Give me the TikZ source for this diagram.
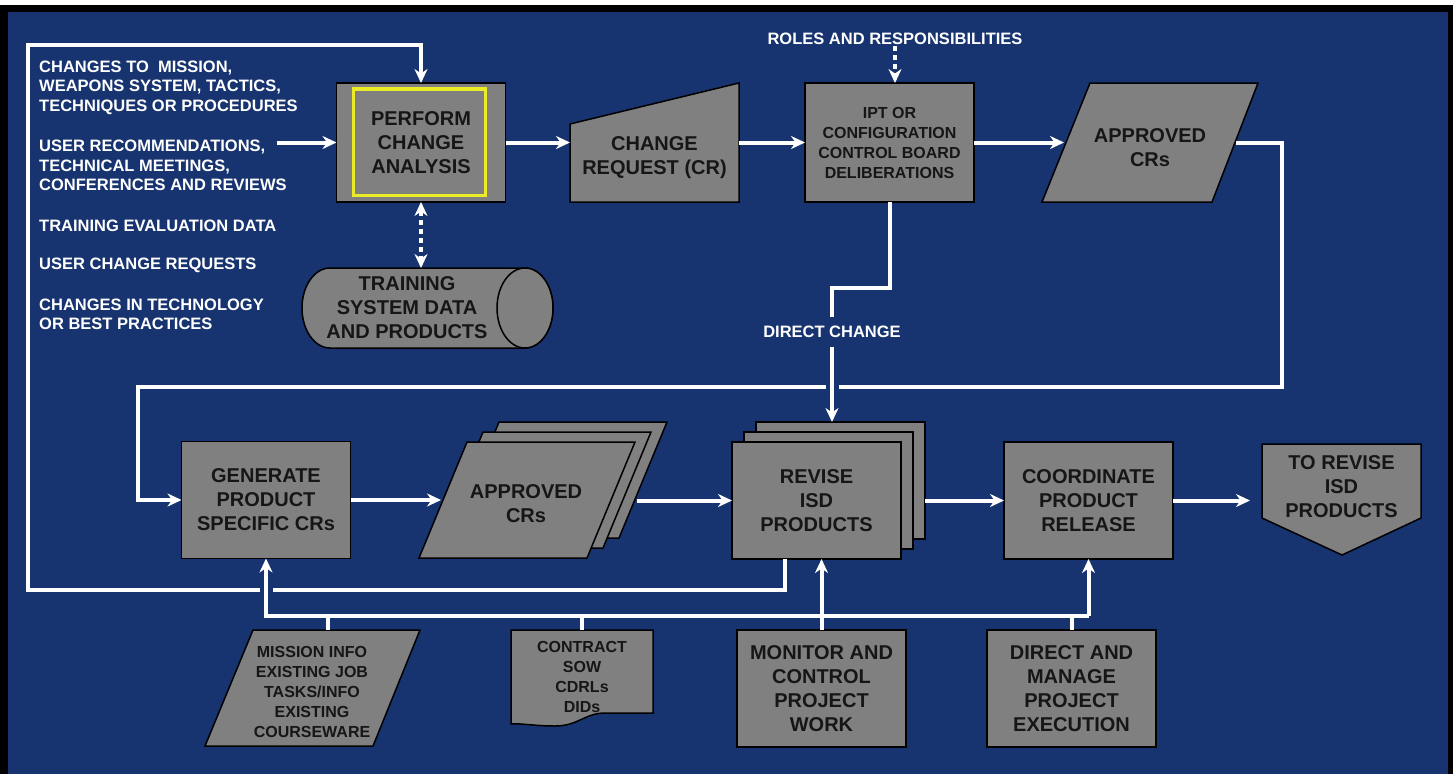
\documentclass[tikz,border=0pt]{standalone}
\usepackage{fontspec}
\setmainfont{Liberation Sans}
\usetikzlibrary{arrows.meta,calc}
\definecolor{bgblue}{RGB}{24,52,112}
\definecolor{boxgray}{RGB}{128,128,128}
\definecolor{boxtext}{RGB}{22,22,22}
\definecolor{hiyellow}{RGB}{235,235,40}
\begin{document}
\begin{tikzpicture}[x=1pt,y=-1pt,>={Stealth[length=14pt,width=13pt]},
	procbox/.style={draw=black,line width=1.5pt,fill=boxgray,minimum width=169,minimum height=117,align=center,text=boxtext,font=\fontsize{20}{24}\selectfont\bfseries,inner sep=2pt,outer sep=0pt},
	smallbox/.style={procbox,font=\fontsize{16}{20}\selectfont\bfseries},
	shapetext/.style={align=center,text=boxtext,font=\fontsize{20}{24}\selectfont\bfseries,inner sep=0pt,outer sep=0pt},
	smalltext/.style={shapetext,font=\fontsize{16}{20}\selectfont\bfseries},
	outline/.style={draw=black,line width=1.5pt,fill=boxgray},
	note/.style={anchor=west,align=left,text=white,font=\fontsize{16.5}{19.5}\selectfont\bfseries,inner sep=0pt},
	tag/.style={text=white,font=\fontsize{16.5}{19.5}\selectfont\bfseries,inner sep=1pt},
	wire/.style={draw=white,line width=4pt},
	flow/.style={wire,->},
	dotflow/.style={wire,dash pattern=on 5pt off 4pt},
	bridge/.style={draw=bgblue,line width=9pt}]
	\useasboundingbox (0,0) rectangle (1453,774);
	\fill[bgblue] (0,0) rectangle (1453,774);
	\fill[black] (0,5) rectangle (1453,12);
	\fill[black] (0,5) rectangle (8,774);
	\fill[black] (1448,5) rectangle (1453,774);
	\fill[white] (0,0) rectangle (1453,5);

	\node[note] (chg) at (39,87.5) {CHANGES TO\ \ MISSION,\\WEAPONS SYSTEM, TACTICS,\\TECHNIQUES OR PROCEDURES};
	\node[note] (userrec) at (39,165.5) {USER RECOMMENDATIONS,\\TECHNICAL MEETINGS,\\CONFERENCES AND REVIEWS};
	\node[note] (evaldata) at (39,226) {TRAINING EVALUATION DATA};
	\node[note] (userreq) at (39,265) {USER CHANGE REQUESTS};
	\node[note] (techchg) at (39,314.5) {CHANGES IN TECHNOLOGY\\OR BEST PRACTICES};
	\node[tag] (roles) at (895,39) {ROLES AND RESPONSIBILITIES};
	\node[tag] (dc) at (832,332) {DIRECT CHANGE};

	\node[procbox,minimum height=119] (perform) at (421,142.5) {PERFORM\\CHANGE\\ANALYSIS};
	\draw[draw=hiyellow,line width=3.5pt] ([xshift=17,yshift=-6]perform.north west) rectangle ([xshift=-20,yshift=6.5]perform.south east);
	\draw[outline] (570,124) -- (739,83) -- (739,202) -- (570,202) -- cycle;
	\node[shapetext,minimum width=169] (cr) at (654.5,157.5) {CHANGE\\REQUEST (CR)};
	\node[smallbox,minimum height=119] (ipt) at (889.5,142.5) {IPT OR\\CONFIGURATION\\CONTROL BOARD\\DELIBERATIONS};
	\draw[outline] (1042,202) -- (1212,202) -- (1258,83) -- (1090,83) -- cycle;
	\node[shapetext,minimum width=172] (apptop) at (1150,147.5) {APPROVED\\CRs};
	\draw[outline] (330,268) -- (525,268) arc[start angle=270,end angle=450,x radius=28,y radius=40] -- (330,348) arc[start angle=90,end angle=270,x radius=28,y radius=40] -- cycle;
	\draw[outline] (525,308) ellipse [x radius=28,y radius=40];
	\node[shapetext,minimum height=80] (tsd) at (407,308) {TRAINING\\SYSTEM DATA\\AND PRODUCTS};

	\node[procbox] (generate) at (266,500) {GENERATE\\PRODUCT\\SPECIFIC CRs};
	\foreach \d in {32,16,0}
		\draw[outline] (419+\d,558-0.625*\d) -- (587+\d,558-0.625*\d) -- (635+\d,442-0.625*\d) -- (467+\d,442-0.625*\d) -- cycle;
	\node[shapetext,minimum width=170] (appbot) at (526,504) {APPROVED\\CRs};
	\node[procbox] (revback) at (840.5,480.5) {};
	\node[procbox] (revmid) at (828.5,490.5) {};
	\node[procbox] (revise) at (816.5,500.5) {REVISE\\ISD\\PRODUCTS};
	\node[procbox] (coord) at (1088.5,500.5) {COORDINATE\\PRODUCT\\RELEASE};
	\draw[outline] (1262,444) -- (1421,444) -- (1421,518) -- (1342,555) -- (1262,518) -- cycle;
	\node[shapetext,minimum width=159] (toisd) at (1341.5,487) {TO REVISE\\ISD\\PRODUCTS};

	\draw[outline] (253,630) -- (420,630) -- (373,746) -- (205,746) -- cycle;
	\node[smalltext,minimum height=124] (mission) at (312,692) {MISSION INFO\\EXISTING JOB\\TASKS/INFO\\EXISTING\\COURSEWARE};
	\draw[outline] (511,630) -- (653,630) -- (653,713) -- (605,713) .. controls (585,713) and (578,726) .. (555,726) .. controls (535,726) and (520,723) .. (511,724) -- cycle;
	\node[smalltext,minimum height=94] (contract) at (582,677) {CONTRACT\\SOW\\CDRLs\\DIDs};
	\node[procbox] (monitor) at (821.5,688.5) {MONITOR AND\\CONTROL\\PROJECT\\WORK};
	\node[procbox] (direct) at (1071.5,688.5) {DIRECT AND\\MANAGE\\PROJECT\\EXECUTION};

	\coordinate (recin) at (277,142.5);
	\coordinate (loopr) at (1282,387);
	\coordinate (loopl) at (138,387);
	\coordinate (fbl) at (28,590);
	\coordinate (fbt) at (28,45);
	\coordinate (bus) at (0,616);
	\coordinate (dcbend) at (832,288);
	\coordinate (mtop) at ([xshift=16]mission.north);
	\coordinate (apout) at ([xshift=26]appbot.east);
	\coordinate (fbout) at ([xshift=-31.5]revise.south);

	\draw[flow] (recin) -- (perform.west);
	\draw[flow] (perform.east) -- (perform.east -| cr.west);
	\draw[flow] (ipt.west -| cr.east) -- (ipt.west);
	\draw[flow] (ipt.east) -- (ipt.east -| apptop.west);
	\draw[flow] (ipt.east -| apptop.east) -| (loopr) -- (loopl) |- (generate.west);
	\draw[dotflow,->] (roles.south) -- (roles.south |- ipt.north);
	\draw[dotflow,<->] (perform.south) -- (perform.south |- tsd.north);
	\draw[wire,shorten >=8pt] (ipt.south) |- (dcbend) -- (dc.north);
	\draw[flow] (generate.east) -- (generate.east -| appbot.west);
	\draw[flow] (apout |- revise.west) -- (revise.west);
	\draw[flow] (revback.east |- revise.east) -- (coord.west);
	\draw[flow,shorten >=12pt] (coord.east) -- (coord.east -| toisd.west);
	\draw[flow] (fbout) |- (fbl) -- (fbt) -| (perform.north);
	\draw[bridge] ($(dc.south |- loopl)+(-6.5,0)$) -- ($(dc.south |- loopl)+(6.5,0)$);
	\draw[bridge] ($(generate.south |- fbl)+(-6.5,0)$) -- ($(generate.south |- fbl)+(6.5,0)$);
	\draw[flow,shorten <=8pt] (dc.south) -- (dc.south |- revback.north);
	\draw[flow] (coord.south |- bus) -| (generate.south);
	\draw[flow] (coord.south |- bus) -- (coord.south);
	\draw[flow] (monitor.north) -- (monitor.north |- revise.south);
	\draw[wire] (mtop) -- (mtop |- bus);
	\draw[wire] (contract.north) -- (contract.north |- bus);
	\draw[wire] (direct.north) -- (direct.north |- bus);
\end{tikzpicture}
\end{document}
